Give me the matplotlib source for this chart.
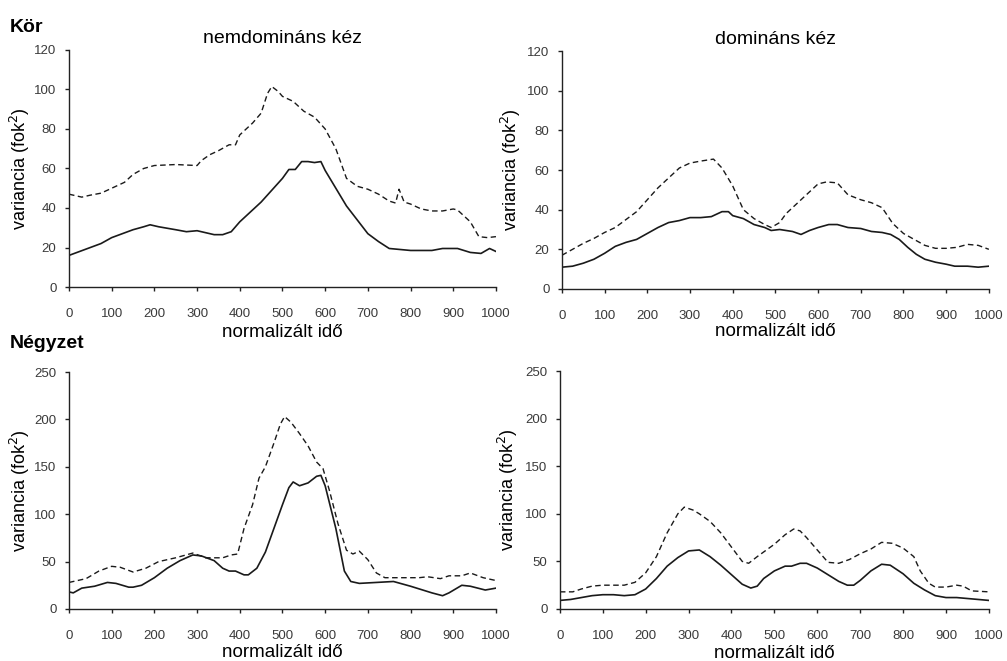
import matplotlib
matplotlib.use("Agg")
import matplotlib.pyplot as plt

plt.rcParams["font.family"] = ["Liberation Sans", "DejaVu Sans"]

# Kör, nemdomináns kéz
kor_nd_x = [0, 25, 50, 75, 100, 125, 150, 175, 190, 210, 250, 275, 300, 320, 340, 360, 380,
            400, 425, 450, 475, 500, 515, 530, 545, 560, 575, 590, 600, 625, 650, 675, 700,
            725, 750, 775, 800, 850, 875, 910, 940, 965, 985, 1000]
kor_nd_solid = [16, 18, 20, 22, 25, 27, 29, 30.5, 31.5, 30.5, 29, 28, 28.5, 27.5, 26.5, 26.5, 28,
                33, 38, 43, 49, 55, 59.5, 59.5, 63.5, 63.5, 63, 63.5, 59, 50, 41, 34, 27,
                23, 19.5, 19, 18.5, 18.5, 19.5, 19.5, 17.5, 17, 19.5, 18]
kor_nd_dash_x = [0, 30, 50, 75, 100, 130, 150, 175, 200, 250, 300, 310, 330, 350, 375, 390, 400,
                 430, 450, 465, 475, 490, 500, 525, 550, 575, 600, 625, 650, 675, 700, 725, 750,
                 765, 773, 785, 800, 825, 850, 875, 900, 910, 940, 960, 980, 1000]
kor_nd_dash = [47, 45.5, 46.5, 47.5, 50, 53, 57, 60, 61.5, 62, 61.5, 64, 67, 69, 72, 72, 77,
               83, 88, 98, 101.5, 99, 96.5, 94, 89, 86, 80, 70, 55, 51, 49.5, 47, 43.5,
               42.5, 49.5, 43, 42, 39.5, 38.5, 38.5, 39.5, 39, 33, 25.5, 25, 25.5]

# Kör, domináns kéz
kor_d_x = [0, 25, 50, 75, 100, 125, 150, 175, 200, 225, 250, 275, 300, 325, 350, 375, 390,
           400, 425, 450, 475, 490, 510, 525, 540, 560, 580, 600, 625, 645, 670, 700, 725,
           750, 770, 790, 810, 830, 850, 875, 900, 920, 950, 975, 1000]
kor_d_solid = [11, 11.5, 13, 15, 18, 21.5, 23.5, 25, 28, 31, 33.5, 34.5, 36, 36, 36.5, 39, 39,
               37, 35.5, 32.5, 31, 29.5, 30, 29.5, 29, 27.5, 29.5, 31, 32.5, 32.5, 31, 30.5, 29,
               28.5, 27.5, 25, 21, 17.5, 15, 13.5, 12.5, 11.5, 11.5, 11, 11.5]
kor_d_dash_x = [0, 25, 50, 75, 100, 125, 150, 175, 200, 225, 250, 275, 300, 325, 340, 355, 375,
                400, 425, 450, 475, 490, 510, 525, 550, 575, 600, 620, 645, 670, 700, 725, 750,
                775, 800, 825, 850, 875, 900, 925, 950, 975, 1000]
kor_d_dash = [17, 20, 23, 25.5, 28.5, 31, 35, 39, 45, 51, 56, 61, 63.5, 64.5, 65, 65.5, 61,
              52, 40, 35.5, 32.5, 31, 33.5, 38, 43, 48, 53, 54, 53.5, 47.5, 45, 43.5, 41,
              33, 28, 25, 22, 20.5, 20.5, 21, 22.5, 22, 20]

# Négyzet, nemdomináns kéz
negy_nd_x = [0, 10, 30, 60, 90, 110, 140, 150, 170, 200, 230, 260, 290, 310, 340, 360, 375,
             390, 410, 420, 440, 460, 480, 500, 515, 525, 540, 560, 580, 590, 600, 625, 645,
             660, 680, 720, 760, 800, 850, 875, 890, 920, 940, 975, 1000]
negy_nd_solid = [18, 17, 22, 24, 28, 27, 23, 23, 25, 33, 43, 51, 57, 56, 51, 43, 40,
                 40, 36, 36, 43, 60, 85, 110, 128, 134, 130, 133, 140, 141, 130, 85, 40,
                 29, 27, 28, 29, 24, 17, 14, 17, 25, 24, 20, 22]
negy_nd_dash_x = [0, 40, 70, 100, 120, 150, 180, 210, 250, 290, 320, 360, 380, 395, 410, 430,
                  445, 460, 480, 495, 505, 520, 540, 560, 580, 595, 610, 630, 650, 665, 680,
                  700, 720, 740, 780, 820, 840, 870, 890, 920, 940, 970, 1000]
negy_nd_dash = [28, 32, 40, 45, 44, 39, 43, 50, 54, 59, 54, 54, 57, 58, 85, 110,
                138, 150, 175, 195, 203, 197, 185, 172, 155, 148, 125, 90, 62, 58, 61,
                52, 38, 33, 33, 33, 34, 32, 35, 35, 38, 33, 30]

# Négyzet, domináns kéz
negy_d_x = [0, 25, 50, 75, 100, 125, 150, 175, 200, 225, 250, 275, 300, 325, 350, 375, 400,
            425, 445, 460, 475, 500, 525, 540, 560, 575, 600, 625, 650, 670, 685, 700, 725,
            750, 770, 800, 825, 850, 875, 900, 925, 950, 975, 1000]
negy_d_solid = [9, 10, 12, 14, 15, 15, 14, 15, 21, 32, 45, 54, 61, 62, 55, 46, 36,
                26, 22, 24, 32, 40, 45, 45, 48, 48, 43, 36, 29, 25, 25, 30, 40,
                47, 46, 37, 27, 20, 14, 12, 12, 11, 10, 9]
negy_d_dash_x = [0, 30, 50, 75, 100, 150, 175, 200, 225, 250, 275, 290, 310, 325, 350, 375, 400,
                 425, 440, 460, 500, 525, 545, 560, 575, 600, 625, 650, 675, 700, 725, 750,
                 775, 800, 825, 840, 860, 875, 900, 925, 940, 960, 1000]
negy_d_dash = [18, 18, 21, 24, 25, 25, 28, 38, 55, 80, 100, 107, 104, 100, 92, 80, 65,
               50, 48, 55, 68, 78, 84, 82, 75, 62, 49, 48, 52, 58, 63, 70,
               69, 64, 55, 40, 27, 23, 23, 25, 24, 19, 18]

ylabel_text = "variancia (fok$^2$)"
xlabel_text = "normalizált idő"
xticks = list(range(0, 1001, 100))

fig = plt.figure(figsize=(10.07, 6.61), dpi=100)

panels = [
    # rect, x, solid, dash_x, dash, ymax, ystep, title, ylabel_x, xlabel_y
    ([0.0685, 0.5658, 0.424, 0.3586], kor_nd_x, kor_nd_solid, kor_nd_dash_x, kor_nd_dash,
     120, 20, "nemdomináns kéz", -0.115, -0.19),
    ([0.558, 0.5628, 0.424, 0.360], kor_d_x, kor_d_solid, kor_d_dash_x, kor_d_dash,
     120, 20, "domináns kéz", -0.12, -0.18),
    ([0.0685, 0.0787, 0.424, 0.3585], negy_nd_x, negy_nd_solid, negy_nd_dash_x, negy_nd_dash,
     250, 50, None, -0.115, -0.185),
    ([0.556, 0.0787, 0.426, 0.360], negy_d_x, negy_d_solid, negy_d_dash_x, negy_d_dash,
     250, 50, None, -0.12, -0.185),
]

line_col = "#1a1a1a"
axis_col = "#222222"
tick_col = "#3a3a3a"

for rect, x, solid, dx, dash, ymax, ystep, title, ylx, xly in panels:
    ax = fig.add_axes(rect)
    ax.plot(x, solid, color=line_col, lw=1.2, solid_joinstyle="round")
    ax.plot(dx, dash, color=line_col, lw=1.0, linestyle=(0, (4, 2.5)))
    ax.set_xlim(0, 1000)
    ax.set_ylim(0, ymax)
    ax.set_xticks(xticks)
    ax.set_yticks(list(range(0, ymax + 1, ystep)))
    for side in ("top", "right"):
        ax.spines[side].set_visible(False)
    for side in ("left", "bottom"):
        ax.spines[side].set_color(axis_col)
        ax.spines[side].set_linewidth(1.0)
    ax.tick_params(direction="out", length=3, width=1, color=axis_col,
                   labelcolor=tick_col, labelsize=9.5)
    ax.tick_params(axis="x", pad=12)
    ax.tick_params(axis="y", pad=6)
    ax.set_ylabel(ylabel_text, fontsize=13)
    ax.yaxis.set_label_coords(ylx, 0.5)
    ax.yaxis.label.set_va("center")
    ax.set_xlabel(xlabel_text, fontsize=13.5)
    ax.xaxis.set_label_coords(0.5, xly)
    ax.xaxis.label.set_va("center")
    if title:
        ax.set_title(title, fontsize=14, pad=5)

fig.text(0.010, 0.958, "Kör", fontsize=14, fontweight="bold", va="center")
fig.text(0.010, 0.480, "Négyzet", fontsize=14, fontweight="bold", va="center")

fig.savefig("out.png", dpi=100)
